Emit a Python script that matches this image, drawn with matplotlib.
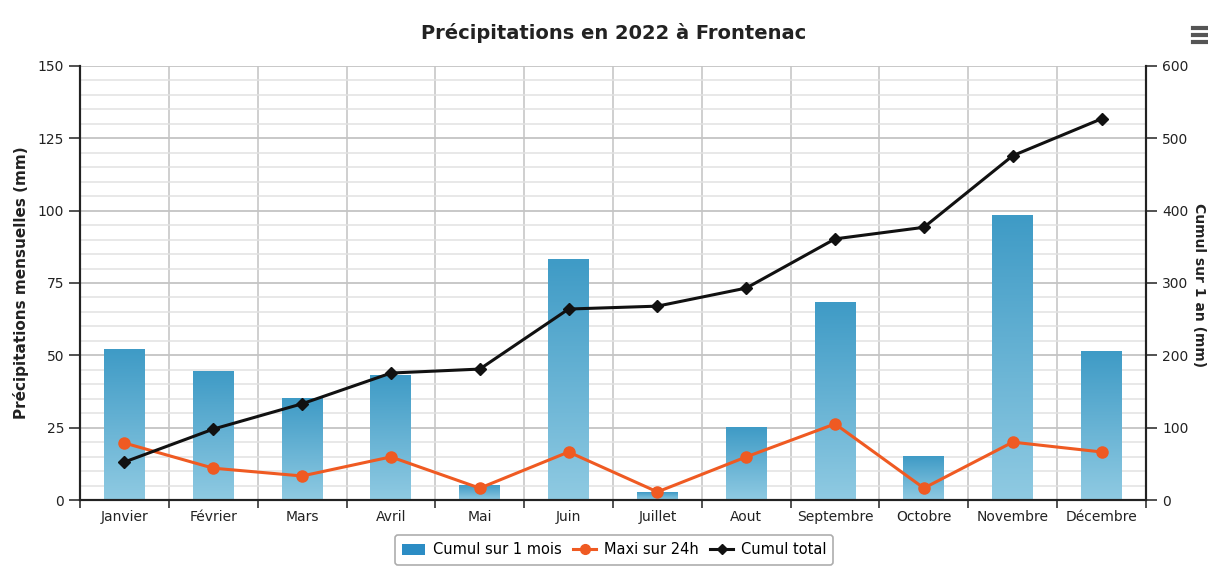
import numpy as np
import matplotlib
matplotlib.use('Agg')
import matplotlib.pyplot as plt
from matplotlib.colors import LinearSegmentedColormap
from matplotlib.lines import Line2D
from matplotlib.patches import Patch

mois = ['Janvier', 'Février', 'Mars', 'Avril', 'Mai', 'Juin', 'Juillet',
        'Aout', 'Septembre', 'Octobre', 'Novembre', 'Décembre']
cumul_mois = [52, 44.5, 35, 43, 5, 83, 2.5, 25, 68.4, 15.2, 98.4, 51.2]
maxi_24h = [19.7, 11, 8.3, 14.9, 4.1, 16.6, 2.8, 14.9, 26.3, 4.1, 20, 16.6]
cumul_total = [52.5, 98, 133, 175.5, 181, 264, 268, 293, 361, 377, 476, 527]

plt.rcParams['font.family'] = ['DejaVu Sans']

fig = plt.figure(figsize=(12.08, 5.66), dpi=100)
ax = fig.add_axes([80/1208, 1-500/566, 1066/1208, 434/566])
ax2 = ax.twinx()

x = np.arange(len(mois))
w = 0.46
cmap = LinearSegmentedColormap.from_list('bleu', ['#8fcae2', '#3f9bc6'])
grad = np.linspace(0, 1, 100).reshape(-1, 1)
for xi, h in zip(x, cumul_mois):
    ax.imshow(grad, cmap=cmap, origin='lower', aspect='auto',
              extent=[xi - w/2, xi + w/2, 0, h], zorder=2)

ax.plot(x, maxi_24h, color='#ef5a22', lw=2.2, marker='o', ms=8, zorder=4)
ax2.plot(x, cumul_total, color='#111111', lw=2.2, marker='D', ms=6, zorder=5)

ax.set_xlim(-0.5, 11.5)
ax.set_ylim(0, 150)
ax2.set_ylim(0, 600)

ax.set_xticks(x)
ax.set_xticklabels(mois, fontsize=10, color='#222222')
ax.set_xticks(np.arange(-0.5, 12, 1), minor=True)
ax.tick_params(axis='x', which='major', length=0, pad=7)
ax.tick_params(axis='x', which='minor', length=6, width=1.2, color='#333333')

ax.set_yticks(np.arange(0, 151, 25))
ax.set_yticks(np.arange(0, 151, 5), minor=True)
ax.tick_params(axis='y', which='major', length=8, width=1.2, labelsize=10,
               color='#333333', labelcolor='#222222')
ax.tick_params(axis='y', which='minor', length=0)
ax2.set_yticks(np.arange(0, 601, 100))
ax2.tick_params(axis='y', length=8, width=1.2, labelsize=10,
                color='#333333', labelcolor='#222222')

ax.grid(True, which='major', axis='y', color='#c4c4c4', lw=1.3, zorder=0)
ax.grid(True, which='minor', axis='y', color='#e2e2e2', lw=1.1, zorder=0)
ax.grid(True, which='minor', axis='x', color='#cccccc', lw=1.3, zorder=0)
ax.set_axisbelow(True)

for a in (ax, ax2):
    a.spines['top'].set_visible(False)
    for s in ('left', 'right', 'bottom'):
        a.spines[s].set_color('#222222')
        a.spines[s].set_linewidth(1.5)

ax.set_ylabel('Précipitations mensuelles (mm)', fontsize=11, fontweight='bold',
              color='#222222', labelpad=6)
fig.text(1199/1208, 1-285/566, 'Cumul sur 1 an (mm)', rotation=-90,
         ha='center', va='center', fontsize=10, fontweight='bold', color='#222222')

fig.text(614/1208, 1-33/566, 'Précipitations en 2022 à Frontenac',
         ha='center', va='center', fontsize=14, fontweight='bold', color='#222222')

# menu icon
for yy in (28, 35, 42):
    fig.add_artist(Line2D([1193/1208, 1208/1208], [1-yy/566, 1-yy/566],
                          color='#555555', lw=3, transform=fig.transFigure))

handles = [Patch(facecolor='#2b8cc4', edgecolor='none'),
           Line2D([], [], color='#ef5a22', lw=2.2, marker='o', ms=7),
           Line2D([], [], color='#111111', lw=2.2, marker='D', ms=5)]
labels = ['Cumul sur 1 mois', 'Maxi sur 24h', 'Cumul total']
leg = fig.legend(handles, labels, loc='center', bbox_to_anchor=(614/1208, 1-550/566),
                 ncol=3, fontsize=10.5, frameon=True, fancybox=True,
                 edgecolor='#999999', handlelength=1.6, columnspacing=0.8,
                 handletextpad=0.5, borderpad=0.5)
leg.get_frame().set_linewidth(1.2)

fig.savefig('out.png', dpi=100)
